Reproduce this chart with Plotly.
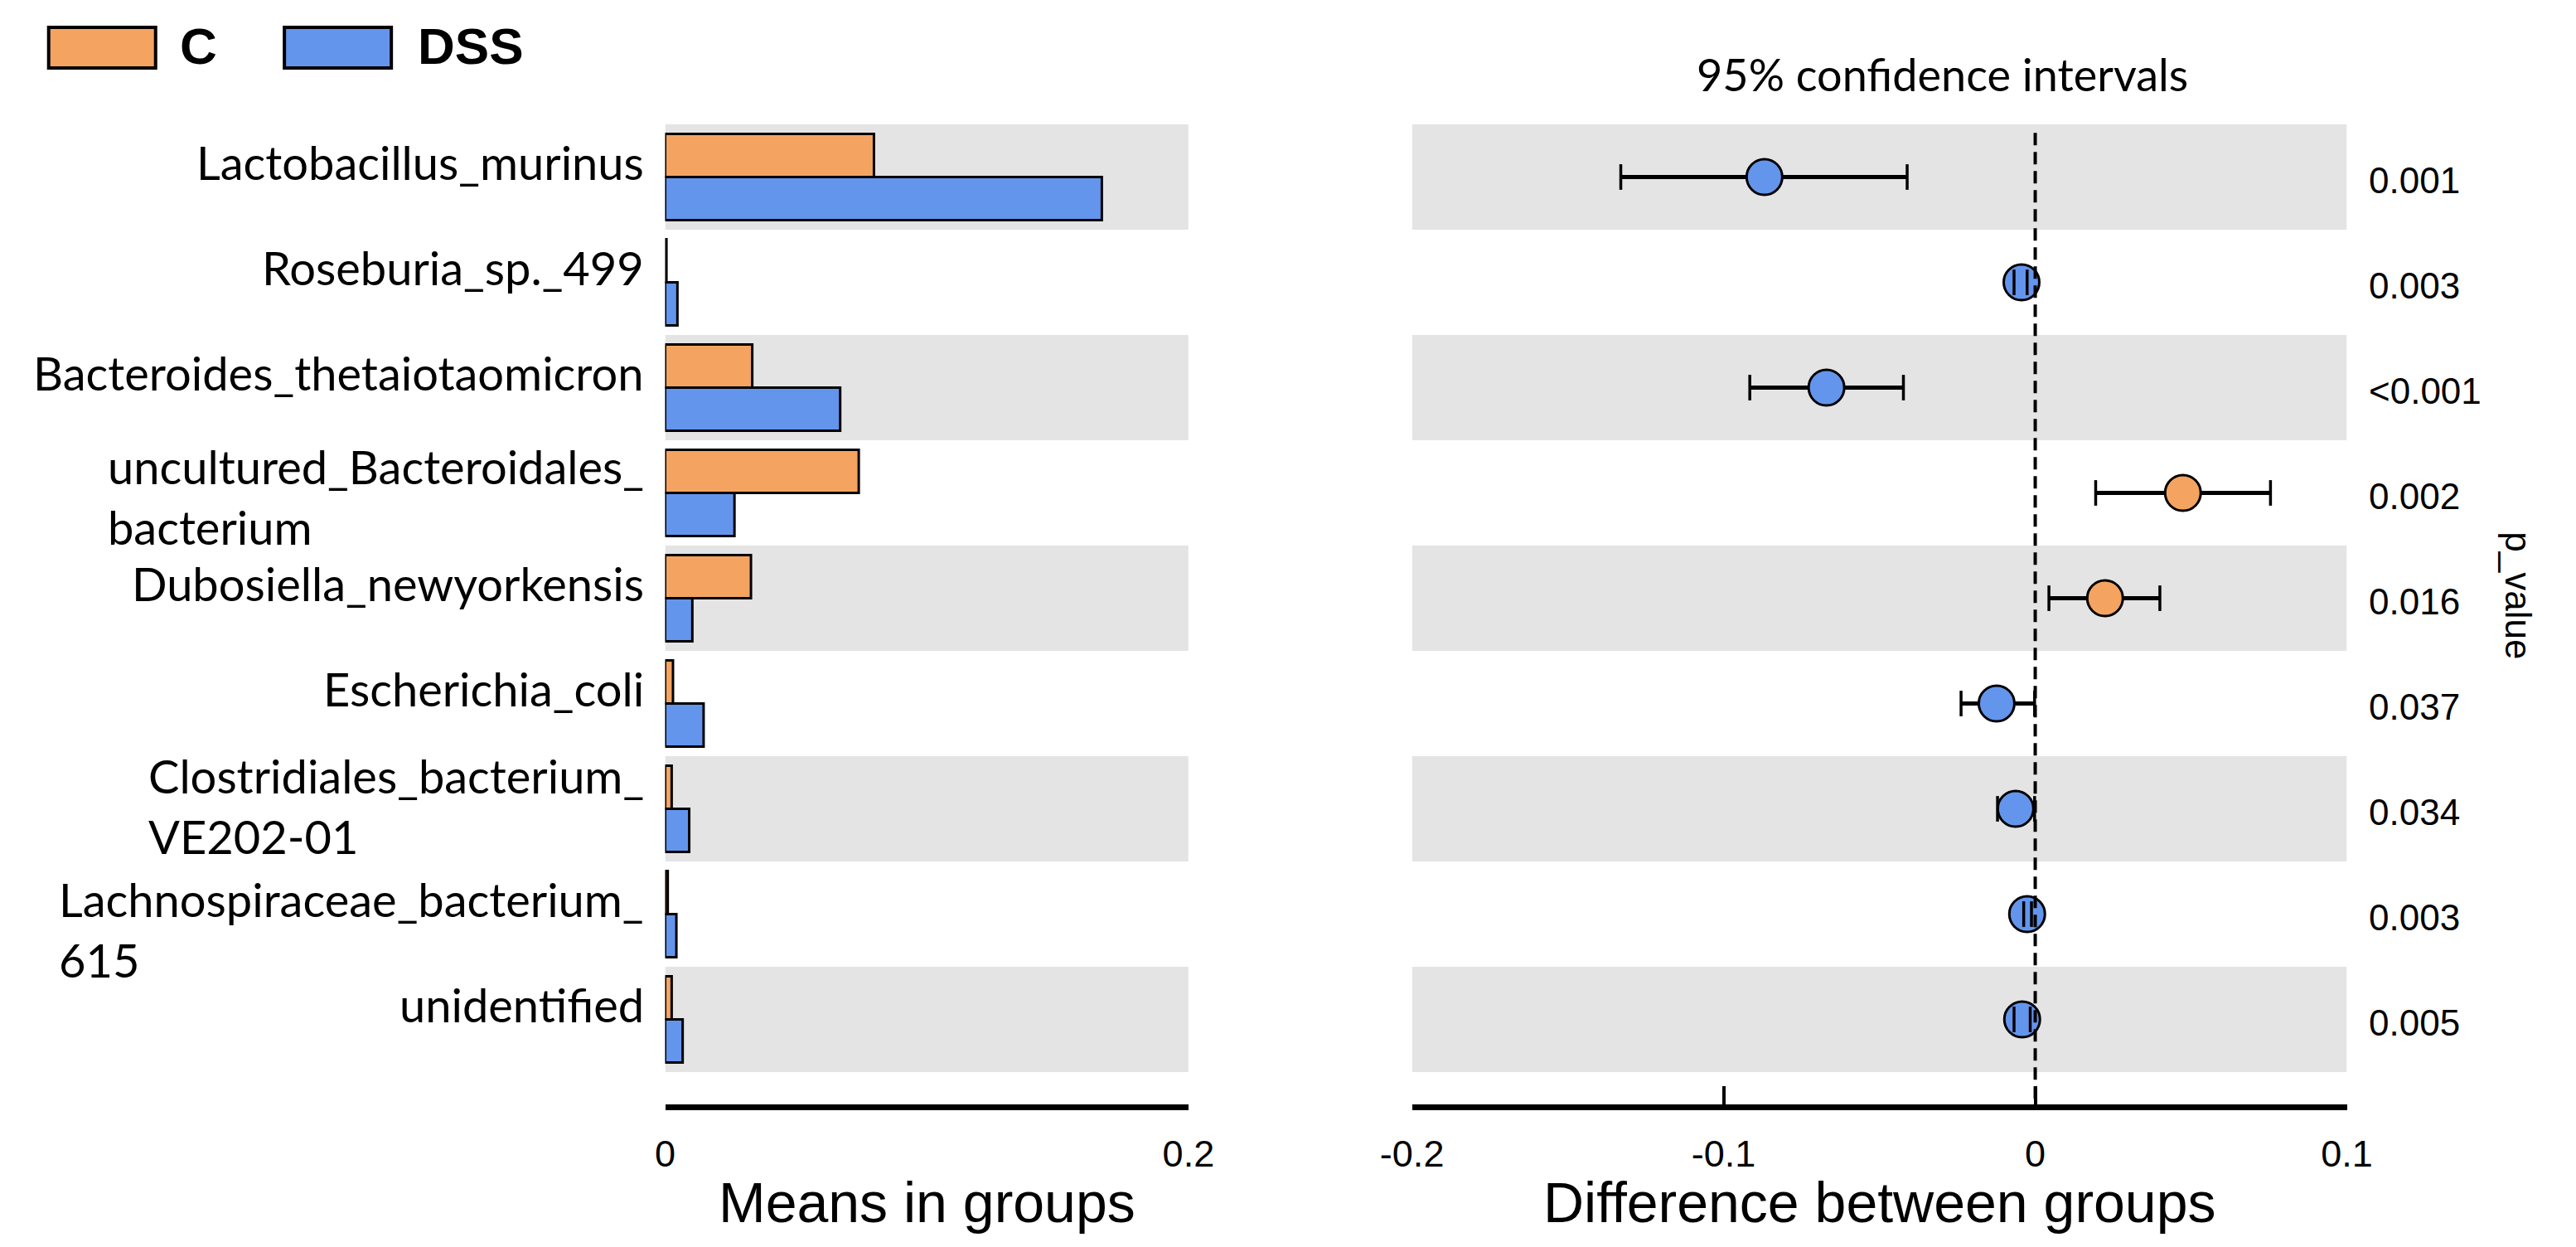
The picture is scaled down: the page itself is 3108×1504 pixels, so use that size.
import plotly.graph_objects as go

# ---------------- data ----------------
species = [
    "Lactobacillus_murinus",
    "Roseburia_sp._499",
    "Bacteroides_thetaiotaomicron",
    "uncultured_Bacteroidales_<br>bacterium",
    "Dubosiella_newyorkensis",
    "Escherichia_coli",
    "Clostridiales_bacterium_<br>VE202-01",
    "Lachnospiraceae_bacterium_<br>615",
    "unidentified",
]
mean_C = [0.0798, 0.0005, 0.0333, 0.0740, 0.0328, 0.0030, 0.0025, 0.0010, 0.0025]
mean_DSS = [0.1669, 0.0047, 0.0669, 0.0265, 0.0104, 0.0147, 0.0092, 0.0043, 0.0067]
diff_est = [-0.0869, -0.0044, -0.0670, 0.0474, 0.0224, -0.0124, -0.0063, -0.0026, -0.0042]
ci_low = [-0.1330, -0.0068, -0.0916, 0.0194, 0.0044, -0.0238, -0.0121, -0.0037, -0.0068]
ci_high = [-0.0411, -0.0026, -0.0423, 0.0755, 0.0400, -0.0002, -0.0002, -0.0012, -0.0016]
p_values = ["0.001", "0.003", "<0.001", "0.002", "0.016", "0.037", "0.034", "0.003", "0.005"]
groups = ["C", "DSS"]
left_ticks = [0, 0.2]
left_ticktext = ["0", "0.2"]
right_ticks = [-0.2, -0.1, 0, 0.1]
right_ticktext = ["-0.2", "-0.1", "0", "0.1"]

# ---------------- style ----------------
PAGE_MARGIN = 8            # default <body> margin of the html page
W, H = 3108 - 2 * PAGE_MARGIN, 1504 - 2 * PAGE_MARGIN
ORANGE = "#F4A460"
BLUE = "#6495ED"
GRAY = "#E4E4E4"
LABEL_FONT = "Lato"
NUM_FONT = "Liberation Sans, Arial"
# vertical nudges (px) of the row labels, style only
LABEL_SHIFT_ONE_LINE = 18
LABEL_SHIFT_TWO_LINE = {3: -4, 6: 4, 7: -18}

rows = list(range(len(species)))
Y_RANGE = [8.807, -0.5]


def px_x(p):
    return (p - PAGE_MARGIN) / W


def px_y(p):
    return 1 - (p - PAGE_MARGIN) / H


fig = go.Figure()

# bars
fig.add_trace(go.Bar(
    y=rows, x=mean_C, orientation="h", name=groups[0],
    marker=dict(color=ORANGE, line=dict(color="black", width=3)),
    xaxis="x", yaxis="y", showlegend=False,
))
fig.add_trace(go.Bar(
    y=rows, x=mean_DSS, orientation="h", name=groups[1],
    marker=dict(color=BLUE, line=dict(color="black", width=3)),
    xaxis="x", yaxis="y", showlegend=False,
))

# CI points
pt_colors = [ORANGE if d > 0 else BLUE for d in diff_est]
fig.add_trace(go.Scatter(
    x=diff_est, y=rows, mode="markers",
    marker=dict(size=43, color=pt_colors, line=dict(color="black", width=3)),
    error_x=dict(type="data", symmetric=False,
                 array=[h - e for h, e in zip(ci_high, diff_est)],
                 arrayminus=[e - l for e, l in zip(diff_est, ci_low)],
                 color="black", thickness=5, width=0),
    xaxis="x2", yaxis="y2", showlegend=False, cliponaxis=False,
))
# caps on top
fig.add_trace(go.Scatter(
    x=ci_low + ci_high, y=rows + rows, mode="markers",
    marker=dict(symbol="line-ns", size=22, color="black",
                line=dict(color="black", width=3.5)),
    xaxis="x2", yaxis="y2", showlegend=False, cliponaxis=False,
))

shapes = []
# alternating gray bands
for i in rows:
    if i % 2 == 0:
        shapes.append(dict(type="rect", xref="x", yref="y", x0=left_ticks[0], x1=left_ticks[-1],
                           y0=i - 0.5, y1=i + 0.5, fillcolor=GRAY, line=dict(width=0), layer="below"))
        shapes.append(dict(type="rect", xref="x2", yref="y2", x0=right_ticks[0], x1=right_ticks[-1],
                           y0=i - 0.5, y1=i + 0.5, fillcolor=GRAY, line=dict(width=0), layer="below"))
# zero dashed line
shapes.append(dict(type="line", xref="x2", yref="y2", x0=0, x1=0, y0=-0.42, y1=Y_RANGE[0],
                   line=dict(color="black", width=4, dash="15px,8px"), layer="above"))
# legend boxes
shapes.append(dict(type="rect", xref="paper", yref="paper", x0=px_x(20), x1=px_x(152),
                   y0=px_y(82), y1=px_y(33), fillcolor=ORANGE, line=dict(color="black", width=4)))
shapes.append(dict(type="rect", xref="paper", yref="paper", x0=px_x(311), x1=px_x(443),
                   y0=px_y(82), y1=px_y(33), fillcolor=BLUE, line=dict(color="black", width=4)))

annotations = []
# row labels
for i, s in enumerate(species):
    shift = LABEL_SHIFT_TWO_LINE.get(i, -4) if "<br>" in s else LABEL_SHIFT_ONE_LINE
    annotations.append(dict(x=0, y=i, xref="x", yref="y", text=s, showarrow=False,
                            xanchor="right", yanchor="middle", align="left", xshift=-24, yshift=shift,
                            font=dict(family=LABEL_FONT, size=56, color="black")))
# p values
for i, p in enumerate(p_values):
    annotations.append(dict(x=px_x(2882), y=i, xref="paper", yref="y2", text=p, showarrow=False,
                            xanchor="left", yanchor="middle", yshift=-4,
                            font=dict(family=NUM_FONT, size=44, color="black")))
# legend texts
annotations.append(dict(x=px_x(180), y=px_y(56), xref="paper", yref="paper", text="<b>C</b>",
                        showarrow=False, xanchor="left", yanchor="middle",
                        font=dict(family=NUM_FONT, size=62, color="black")))
annotations.append(dict(x=px_x(474), y=px_y(56), xref="paper", yref="paper", text="<b>DSS</b>",
                        showarrow=False, xanchor="left", yanchor="middle",
                        font=dict(family=NUM_FONT, size=62, color="black")))
# titles
annotations.append(dict(x=px_x(2358), y=px_y(90), xref="paper", yref="paper",
                        text="95% confidence intervals", showarrow=False,
                        xanchor="center", yanchor="middle",
                        font=dict(family=LABEL_FONT, size=54, color="black")))
annotations.append(dict(x=px_x(1104), y=px_y(1450), xref="paper", yref="paper",
                        text="Means in groups", showarrow=False, xanchor="center", yanchor="middle",
                        font=dict(family=NUM_FONT, size=68, color="black")))
annotations.append(dict(x=px_x(2280), y=px_y(1450), xref="paper", yref="paper",
                        text="Difference between groups", showarrow=False, xanchor="center",
                        yanchor="middle", font=dict(family=NUM_FONT, size=68, color="black")))
annotations.append(dict(x=px_x(3069), y=px_y(718), xref="paper", yref="paper",
                        text="p_value", showarrow=False, textangle=90,
                        xanchor="center", yanchor="middle",
                        font=dict(family=NUM_FONT, size=44, color="black")))

ydom = [px_y(1332), px_y(150)]
common_x = dict(ticks="inside", ticklen=22, tickwidth=4, tickcolor="black",
                showline=True, linewidth=7, linecolor="black", showgrid=False,
                zeroline=False, tickfont=dict(family=NUM_FONT, size=45, color="black"),
                ticklabelstandoff=14, fixedrange=True)
common_y = dict(range=Y_RANGE, showticklabels=False, showgrid=False, zeroline=False,
                showline=False, ticks="", domain=ydom)

fig.update_layout(
    width=W, height=H,
    margin=dict(l=0, r=0, t=0, b=0),
    paper_bgcolor="white", plot_bgcolor="white",
    barmode="group", bargap=0.18, bargroupgap=0,
    xaxis=dict(domain=[px_x(781), px_x(1427)], range=[left_ticks[0], left_ticks[-1]],
               tickvals=left_ticks, ticktext=left_ticktext, anchor="y", **common_x),
    yaxis=dict(anchor="x", **common_y),
    xaxis2=dict(domain=[px_x(1703), px_x(2857)], range=[right_ticks[0], right_ticks[-1]],
                tickvals=right_ticks, ticktext=right_ticktext, anchor="y2", **common_x),
    yaxis2=dict(anchor="x2", **common_y),
    shapes=shapes, annotations=annotations,
)

fig.write_html("out.html")
